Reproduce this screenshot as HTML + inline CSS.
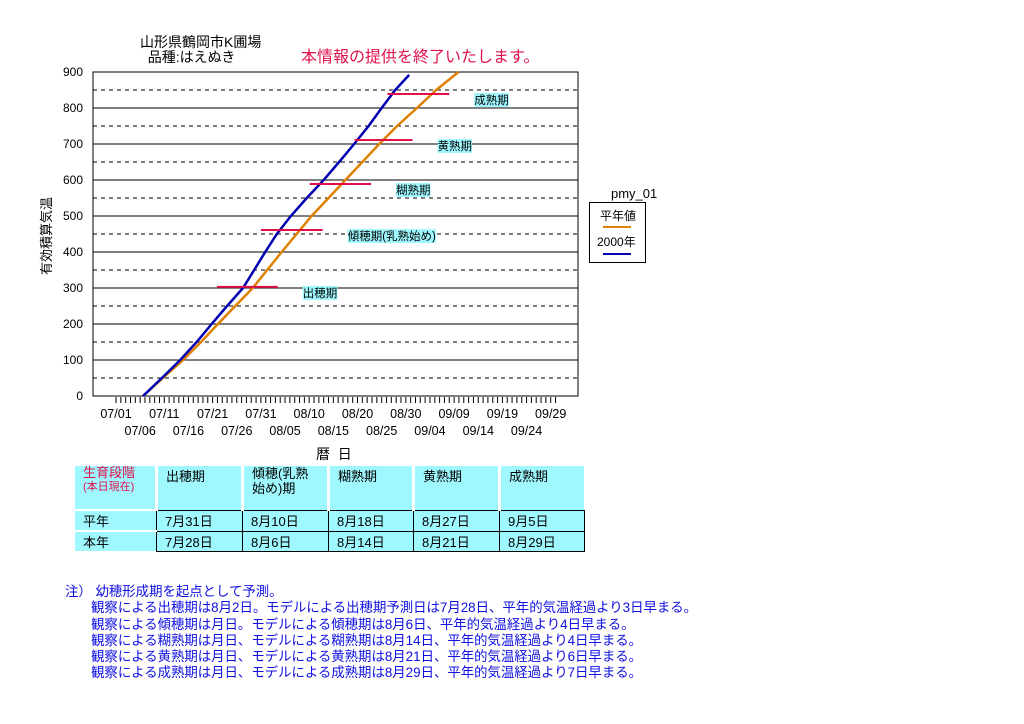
<!DOCTYPE html>
<html><head><meta charset="utf-8"><style>
body{margin:0;background:#fff;width:1024px;height:724px;position:relative;overflow:hidden;font-family:"Liberation Sans","Noto Sans CJK JP",sans-serif;font-size:12px;color:#000}
.a{position:absolute;white-space:nowrap}
table{border-collapse:collapse;position:absolute;left:75px;top:466px}
td{background:#a0f8ff;padding:0 0 0 8px;vertical-align:top;font-size:13px;height:18px}
td.b{border:1px solid #000}
.notes{position:absolute;left:65px;top:584px;color:#1010e0;font-size:13.4px;line-height:16.3px}
</style></head><body>
<div class="a" style="left:140px;top:35px;font-size:14px;line-height:15px">山形県鶴岡市K圃場<br>&nbsp;&nbsp;品種:はえぬき</div>
<div class="a" style="left:301px;top:43px;font-size:16px;color:#e0104a">本情報の提供を終了いたします。</div>
<div class="a" style="left:36px;top:275px;transform:rotate(-90deg);transform-origin:0 0;font-size:13px">有効積算気温</div>
<div class="a" style="left:316px;top:444px;font-size:14px">暦&nbsp;&nbsp;日</div>
<svg id="chart" width="1024" height="460" style="position:absolute;left:0;top:0" font-family="Liberation Sans, Noto Sans CJK JP, sans-serif"></svg>
<div class="a" style="left:611px;top:186px;font-size:13px">pmy_01</div>
<div class="a" style="left:589px;top:202px;width:55px;height:59px;border:1px solid #000;background:#fff">
 <div class="a" style="left:10px;top:4px">平年値</div>
 <div class="a" style="left:13px;top:23px;width:28px;height:2px;background:#e08000"></div>
 <div class="a" style="left:7px;top:30px">2000年</div>
 <div class="a" style="left:13px;top:50px;width:28px;height:2px;background:#0000b0"></div>
</div>
<table>
<tr style="height:44px"><td style="width:72px;color:#e0104a;font-size:13px;line-height:13px;border-right:3px solid #fff">生育段階<br><span style="font-size:11px">(本日現在)</span></td><td style="width:75px;border-right:3px solid #fff">出穂期</td><td style="width:75px;border-right:3px solid #fff;line-height:15px">傾穂(乳熟<br>始め)期</td><td style="width:74px;border-right:3px solid #fff">糊熟期</td><td style="width:75px;border-right:3px solid #fff">黄熟期</td><td style="width:75px">成熟期</td></tr>
<tr><td style="border-top:2px solid #fff">平年</td><td class="b">7月31日</td><td class="b">8月10日</td><td class="b">8月18日</td><td class="b">8月27日</td><td class="b">9月5日</td></tr>
<tr><td style="border-top:2px solid #fff">本年</td><td class="b">7月28日</td><td class="b">8月6日</td><td class="b">8月14日</td><td class="b">8月21日</td><td class="b">8月29日</td></tr>
</table>
<div class="notes">注） 幼穂形成期を起点として予測。<br>
&nbsp;&nbsp;&nbsp;&nbsp;&nbsp;&nbsp;&nbsp;観察による出穂期は8月2日。モデルによる出穂期予測日は7月28日、平年的気温経過より3日早まる。<br>
&nbsp;&nbsp;&nbsp;&nbsp;&nbsp;&nbsp;&nbsp;観察による傾穂期は月日。モデルによる傾穂期は8月6日、平年的気温経過より4日早まる。<br>
&nbsp;&nbsp;&nbsp;&nbsp;&nbsp;&nbsp;&nbsp;観察による糊熟期は月日、モデルによる糊熟期は8月14日、平年的気温経過より4日早まる。<br>
&nbsp;&nbsp;&nbsp;&nbsp;&nbsp;&nbsp;&nbsp;観察による黄熟期は月日、モデルによる黄熟期は8月21日、平年的気温経過より6日早まる。<br>
&nbsp;&nbsp;&nbsp;&nbsp;&nbsp;&nbsp;&nbsp;観察による成熟期は月日、モデルによる成熟期は8月29日、平年的気温経過より7日早まる。</div>
<script>
const yTicks=[0,100,200,300,400,500,600,700,800,900];
const xLabelsTop=["07/01","07/11","07/21","07/31","08/10","08/20","08/30","09/09","09/19","09/29"];
const xLabelsBottom=["07/06","07/16","07/26","08/05","08/15","08/25","09/04","09/14","09/24"];
const daysThisYear=[5.6,9.5,13.3,16.7,19.8,23,26.3,28.6,30.9,33.3,36.2,39.5,43,46.2,49.3,52.3,55,57.8,60.7];
const valsThisYear=[0,50,100,150,200,250,300,350,400,450,500,550,600,650,700,750,800,850,892];
const daysNormal=[5.6,9.7,13.9,17.6,21.1,24.7,28.3,31.3,34.3,37.4,40.5,44,47.5,51,54.5,58.2,62.3,66.3,70.9];
const valsNormal=[0,50,100,150,200,250,300,350,400,450,500,550,600,650,700,750,800,850,900];
const stageNames=["出穂期","傾穂期(乳熟始め)","糊熟期","黄熟期","成熟期"];
const stageVals=[303,461,589,711,839];
const stageStart=[20.9,30,40.1,49.4,56.2];
const stageEnd=[33.5,42.8,52.8,61.4,69];
const svg=document.getElementById('chart');const NS='http://www.w3.org/2000/svg';
const L=93,R=578,T=72,B=396;
const y=v=>B-(B-T)*v/900;
const x=d=>116+d*4.83;
function mk(t,a){const e=document.createElementNS(NS,t);for(const k in a)e.setAttribute(k,a[k]);svg.appendChild(e);return e;}
for(let i=0;i<=18;i++){const v=i*50;if(v===0||v===900)continue;
 const g=mk('line',{x1:L,x2:R,y1:y(v),y2:y(v),stroke:'#000','stroke-width':1,'stroke-dasharray':i%2?'4,4':''});
 
 }
const box=mk('rect',{x:L,y:T,width:R-L,height:B-T,fill:'none',stroke:'#000'});


yTicks.forEach(v=>{const t=mk('text',{x:83,y:y(v)+4,'text-anchor':'end','font-size':12});t.textContent=v;
 
 });
for(let d=0;d<=91;d++){mk('line',{x1:x(d),x2:x(d),y1:B+1,y2:B+7,stroke:'#000'});}
xLabelsTop.forEach((s,i)=>{const t=mk('text',{x:x(i*10),y:418,'text-anchor':'middle','font-size':12.5});t.textContent=s;
 
 });
xLabelsBottom.forEach((s,i)=>{const t=mk('text',{x:x(5+i*10),y:435,'text-anchor':'middle','font-size':12.5});t.textContent=s;
 
 });
function line(ds,vs,c,n){const p=mk('polyline',{points:ds.map((d,i)=>x(d)+','+y(vs[i])).join(' '),fill:'none',stroke:c,'stroke-width':2.5});
 
 }
line(daysNormal,valsNormal,'#e08000','normal-year-line');
line(daysThisYear,valsThisYear,'#0000b0','year-2000-line');
stageVals.forEach((v,i)=>{const l=mk('line',{x1:x(stageStart[i]),x2:x(stageEnd[i]),y1:y(v),y2:y(v),stroke:'#e0104a','stroke-width':2});
 
 
 const tx=x(stageEnd[i])+25, ty=y(v)+10;
 const t=mk('text',{x:tx,y:ty,'font-size':11.5});t.textContent=stageNames[i];
 const bb=t.getBBox();const r=mk('rect',{x:bb.x,y:bb.y,width:bb.width,height:bb.height,fill:'#a0f8ff'});svg.insertBefore(r,t);
 
 });
</script>
</body></html>
